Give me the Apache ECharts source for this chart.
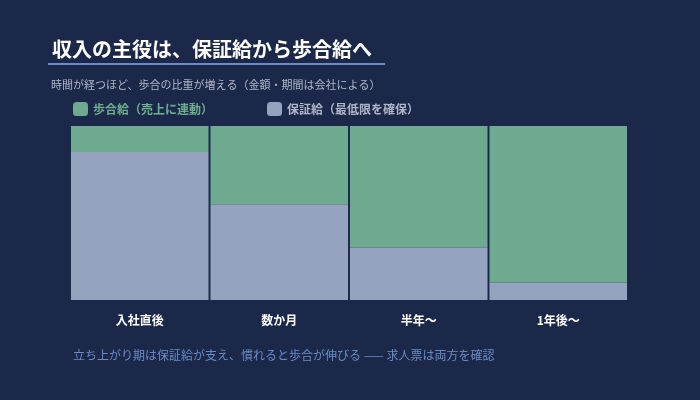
<!DOCTYPE html>
<html><head><meta charset="utf-8">
<script src="https://cdn.jsdelivr.net/npm/echarts@6/dist/echarts.min.js"></script>
<style>html,body{margin:0;background:#1b2849}#main{width:700px;height:400px}</style>
</head><body><div id="main"></div>
<script>
var categories = ['入社直後', '数か月', '半年〜', '1年後〜'];
var guarantee = [85, 55, 30, 10];
var commission = [15, 45, 70, 90];
var font = '"Noto Sans CJK JP", sans-serif';
var chart = echarts.init(document.getElementById('main'));
chart.setOption({
  backgroundColor: '#1b2849',
  textStyle: {fontFamily: font},
  title: [
    {text: '収入の主役は、保証給から歩合給へ', left: 47, top: 34,
     textStyle: {color: '#ffffff', fontSize: 20, fontWeight: 'bold', fontFamily: font}},
    {text: '時間が経つほど、歩合の比重が増える（金額・期間は会社による）', left: 46, top: 74,
     textStyle: {color: '#aeb6c8', fontSize: 11, fontWeight: 'normal', fontFamily: font}},
    {text: '立ち上がり期は保証給が支え、慣れると歩合が伸びる —— 求人票は両方を確認', left: 68, top: 344,
     textStyle: {color: '#6a8cc6', fontSize: 12, fontWeight: 'normal', fontFamily: font}}
  ],
  graphic: [{type: 'rect', shape: {x: 48, y: 63, width: 337, height: 2}, style: {fill: '#6a8cc6'}}],
  legend: {
    left: 68, top: 97, itemWidth: 15, itemHeight: 14, itemGap: 54,
    data: [
      {name: '歩合給（売上に連動）', textStyle: {color: '#6fb08f'}},
      {name: '保証給（最低限を確保）', textStyle: {color: '#aeb6c8'}}
    ],
    textStyle: {fontSize: 12, fontWeight: 'bold', fontFamily: font}
  },
  grid: {left: 70, right: 72, top: 126, bottom: 100},
  xAxis: {
    type: 'category', data: categories,
    axisLine: {show: false}, axisTick: {show: false},
    axisLabel: {color: '#ffffff', fontSize: 12, fontWeight: 'bold', margin: 14}
  },
  yAxis: {type: 'value', min: 0, max: 100, show: false, splitLine: {show: false}},
  series: [
    {name: '保証給（最低限を確保）', type: 'bar', stack: 'a', data: guarantee, barWidth: '98.6%',
     itemStyle: {color: '#95a3be'}},
    {name: '歩合給（売上に連動）', type: 'bar', stack: 'a', data: commission,
     itemStyle: {color: '#6daa8f'}}
  ]
});
</script></body></html>
